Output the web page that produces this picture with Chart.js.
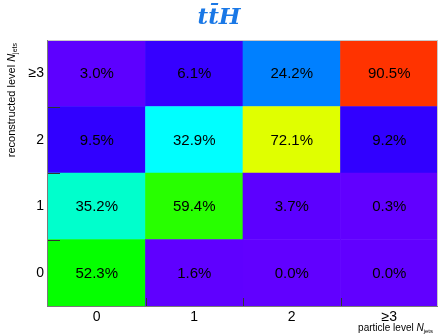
<!DOCTYPE html>
<html>
<head>
<meta charset="utf-8">
<script src="https://cdn.jsdelivr.net/npm/chart.js@4/dist/chart.umd.min.js"></script>
<style>
  html, body { margin: 0; padding: 0; background: #fff; }
  #wrap { width: 439px; height: 335px; }
</style>
</head>
<body>
<div id="wrap"><canvas id="c" width="439" height="335"></canvas></div>
<script>
// Jet-multiplicity migration matrix for ttH: particle level (columns) vs reconstructed level (rows), in percent.
const particleLabels = ['0', '1', '2', '\u22653'];
const recoLabels = ['0', '1', '2', '\u22653'];
const recoRow0 = [52.3, 1.6, 0.0, 0.0];
const recoRow1 = [35.2, 59.4, 3.7, 0.3];
const recoRow2 = [9.5, 32.9, 72.1, 9.2];
const recoRow3 = [3.0, 6.1, 24.2, 90.5];
const recoRows = [recoRow0, recoRow1, recoRow2, recoRow3];

// Rainbow colour map (percent -> rgb)
const paletteStops = [
  [0, [97, 0, 255]], [3.7, [92, 0, 255]], [6, [54, 0, 255]], [10, [48, 0, 255]],
  [17, [0, 10, 255]], [24.2, [0, 128, 255]], [32.9, [0, 255, 255]], [35.2, [0, 255, 204]],
  [52.3, [5, 255, 0]], [59.4, [40, 255, 0]], [72.1, [224, 255, 0]], [80, [255, 190, 0]],
  [90.5, [255, 51, 0]], [100, [255, 0, 0]]
];
function paletteColor(v) {
  for (let i = 1; i < paletteStops.length; i++) {
    const [v1, c1] = paletteStops[i];
    const [v0, c0] = paletteStops[i - 1];
    if (v <= v1) {
      const t = (v - v0) / (v1 - v0);
      const c = c0.map((a, k) => Math.round(a + (c1[k] - a) * t));
      return `rgb(${c[0]},${c[1]},${c[2]})`;
    }
  }
  return 'rgb(255,0,0)';
}

// One stacked dataset per reconstructed row; every cell spans one unit of the y axis.
const datasets = recoRows.map((row, r) => ({
  label: 'reco ' + recoLabels[r],
  data: row.map(() => 1),
  percent: row,
  backgroundColor: row.map(v => paletteColor(v)),
  borderWidth: 0,
  barPercentage: 1.0,
  categoryPercentage: 1.0
}));

const cellText = {
  id: 'cellText',
  afterDatasetsDraw(chart) {
    const ctx = chart.ctx;
    ctx.save();
    ctx.font = '15px "Liberation Sans", Arial, sans-serif';
    ctx.fillStyle = '#000';
    ctx.textAlign = 'center';
    ctx.textBaseline = 'middle';
    chart.data.datasets.forEach((ds, di) => {
      const meta = chart.getDatasetMeta(di);
      meta.data.forEach((bar, i) => {
        const cy = (bar.y + bar.base) / 2;
        ctx.fillText(ds.percent[i].toFixed(1) + '%', bar.x, cy + 1);
      });
    });
    ctx.restore();
  }
};

const frameAndTicks = {
  id: 'frameAndTicks',
  afterDraw(chart) {
    const ctx = chart.ctx;
    const a = chart.chartArea;
    const xs = chart.scales.x, ys = chart.scales.y;
    ctx.save();
    // frame
    ctx.lineWidth = 1;
    ctx.strokeStyle = '#c8c8c8';
    ctx.beginPath();
    ctx.moveTo(a.left, a.top + 0.5); ctx.lineTo(a.right, a.top + 0.5);
    ctx.moveTo(a.right - 0.5, a.top); ctx.lineTo(a.right - 0.5, a.bottom);
    ctx.stroke();
    ctx.strokeStyle = '#7a7a7a';
    ctx.beginPath();
    ctx.moveTo(a.left - 0.5, a.top); ctx.lineTo(a.left - 0.5, a.bottom + 1);
    ctx.moveTo(a.left - 1, a.bottom + 0.5); ctx.lineTo(a.right, a.bottom + 0.5);
    ctx.stroke();
    // inner ticks at bin edges
    ctx.strokeStyle = '#333';
    ctx.beginPath();
    for (let i = 0; i < particleLabels.length - 1; i++) {
      const px = Math.round((xs.getPixelForValue(i) + xs.getPixelForValue(i + 1)) / 2) + 0.5;
      ctx.moveTo(px, a.bottom); ctx.lineTo(px, a.bottom - 8);
    }
    for (let j = 1; j < recoLabels.length; j++) {
      const py = Math.round(ys.getPixelForValue(j)) + 0.5;
      ctx.moveTo(a.left, py); ctx.lineTo(a.left + 12, py);
    }
    ctx.stroke();

    // axis titles
    const base = '"Liberation Sans", Arial, sans-serif';
    const parts = (main, size) => [
      { t: main, f: size + 'px ' + base, dy: 0 },
      { t: 'N', f: 'italic ' + size + 'px ' + base, dy: 0 },
      { t: 'jets', f: Math.round(size * 0.6) + 'px ' + base, dy: 2 }
    ];
    const drawParts = (list, endX, y) => {
      let w = 0;
      list.forEach(p => { ctx.font = p.f; p.w = ctx.measureText(p.t).width; w += p.w; });
      let x = endX - w;
      ctx.textAlign = 'left';
      ctx.textBaseline = 'alphabetic';
      list.forEach(p => { ctx.font = p.f; ctx.fillText(p.t, x, y + p.dy); x += p.w; });
    };
    ctx.fillStyle = '#000';
    drawParts(parts('particle level ', 10), 433, 331);
    ctx.translate(15, 43);
    ctx.rotate(-Math.PI / 2);
    drawParts(parts('reconstructed level ', 11), 0, 0);
    ctx.restore();
  }
};

new Chart(document.getElementById('c'), {
  type: 'bar',
  data: { labels: particleLabels, datasets },
  options: {
    responsive: false,
    animation: false,
    layout: { padding: { left: 0, right: 1, top: 0, bottom: 0 } },
    plugins: {
      legend: { display: false },
      tooltip: { enabled: false },
      title: {
        display: true,
        text: 'tt\u0304H',
        color: '#1a78e6',
        font: { family: '"DejaVu Serif", "Liberation Serif", serif', size: 23, style: 'italic', weight: 'bold', lineHeight: 1.2 },
        padding: { top: 4, bottom: 8.4 }
      }
    },
    scales: {
      x: {
        stacked: true,
        grid: { display: false, drawTicks: false },
        border: { display: false },
        ticks: { color: '#000', padding: 3, font: { family: '"Liberation Sans", Arial, sans-serif', size: 14 } },
        afterFit(s) { s.height = 29; }
      },
      y: {
        stacked: true,
        min: 0,
        max: 4,
        grid: { display: false, drawTicks: false },
        border: { display: false },
        afterBuildTicks(s) { s.ticks = recoLabels.map((_, i) => ({ value: i + 0.5 })); },
        ticks: {
          color: '#000',
          padding: 4,
          font: { family: '"Liberation Sans", Arial, sans-serif', size: 14 },
          callback: (v, i) => recoLabels[i]
        },
        afterFit(s) { s.width = 48; }
      }
    }
  },
  plugins: [cellText, frameAndTicks]
});
</script>
</body>
</html>
